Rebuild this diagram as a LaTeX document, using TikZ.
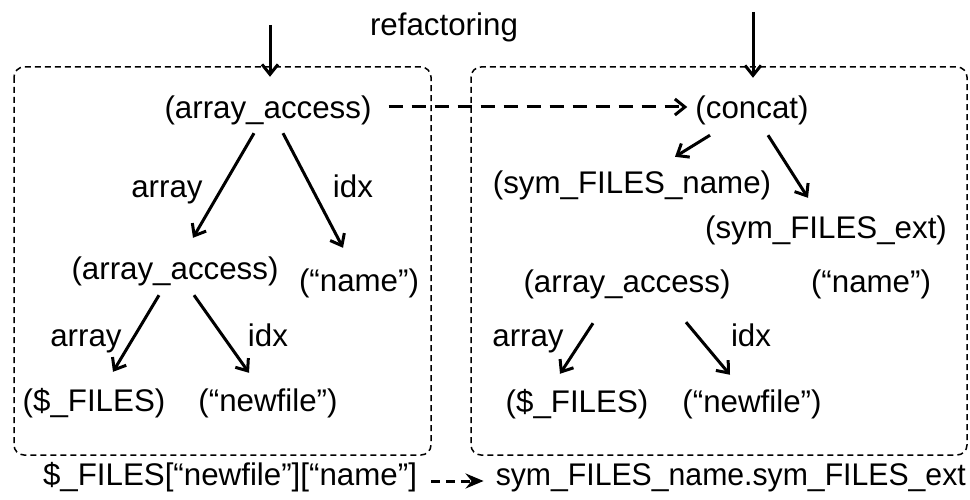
\documentclass[tikz,border=0pt]{standalone}
\usepackage{fontspec}
\setmainfont{Liberation Sans}
\usetikzlibrary{arrows.meta,calc}
\begin{document}
\begin{tikzpicture}[x=1pt,y=-1pt,
  lbl/.style={inner sep=0pt, text height=23pt, text depth=7pt,
    font=\fontsize{31.3}{36}\selectfont},
  grp/.style={draw, line width=1.5pt, dash pattern=on 6pt off 4pt, rounded corners=10pt},
  arr/.style={line width=3pt, -{Straight Barb[length=10pt,width=16pt]}},
  maparr/.style={line width=3pt, dash pattern=on 14pt off 9pt,
    -{Straight Barb[length=10pt,width=16pt]}},
  smallmap/.style={line width=3pt, dash pattern=on 9pt off 6pt,
    -{Stealth[length=18pt,width=15pt,inset=6pt]}}]
\useasboundingbox (0,0) rectangle (970,500);

% the two subtrees
\draw[grp] (14,67) rectangle (431,455);
\draw[grp] (471,67) rectangle (967,455);

\node[lbl] (title) at (444,28) {refactoring};

% original tree
\node[lbl] (L1) at (268,111) {(array\_access)};
\node[lbl] (L2) at (175,271) {(array\_access)};
\node[lbl] (Lname) at (359,283) {(“name”)};
\node[lbl] (Lfiles) at (94,403) {(\$\_FILES)};
\node[lbl] (Lnew) at (268,403) {(“newfile”)};
\node[lbl] (la1) at (167,190) {array};
\node[lbl] (li1) at (353,190) {idx};
\node[lbl] (la2) at (86,338) {array};
\node[lbl] (li2) at (268,338) {idx};

% refactored tree
\node[lbl] (R1) at (752,111) {(concat)};
\node[lbl] (Rn) at (632,186) {(sym\_FILES\_name)};
\node[lbl] (Re) at (826,231) {(sym\_FILES\_ext)};
\node[lbl] (R2) at (627,284) {(array\_access)};
\node[lbl] (Rname) at (871,284) {(“name”)};
\node[lbl] (Rfiles) at (577,404) {(\$\_FILES)};
\node[lbl] (Rnew) at (752,404) {(“newfile”)};
\node[lbl] (ra) at (528,338) {array};
\node[lbl] (ri) at (751,338) {idx};

% source expressions
\node[lbl] (src) at (230,477) {\$\_FILES[“newfile”][“name”]};
\node[lbl, anchor=east] (dst) at (966,477)
  {\scalebox{0.965}[1]{sym\_FILES\_name.sym\_FILES\_ext}};

% entry arrows
\coordinate (inL) at (270,25);
\coordinate (inR) at (753,12);
\draw[arr] (inL) -- ($(L1.north)+(2,-19)$);
\draw[arr] (inR) -- ($(R1.north)+(1,-18)$);

% original tree edges
\draw[arr] ($(L1.south)+(-14,7)$) -- ($(L2.north)+(18,-18)$);
\draw[arr] ($(L1.south)+(15,7)$) -- ($(Lname.north)+(-16,-20)$);
\draw[arr] ($(L2.south)+(-16,9)$) -- ($(Lfiles.north)+(19,-16)$);
\draw[arr] ($(L2.south)+(19,9)$) -- ($(Lnew.north)+(-19,-15)$);

% refactored tree edges
\draw[arr] ($(R1.south)+(-42,9)$) -- ($(Rn.north)+(43,-14)$);
\draw[arr] ($(R1.south)+(16,9)$) -- ($(Re.north)+(-18,-18)$);
\draw[arr] ($(R2.south)+(-34,24)$) -- ($(Rfiles.north)+(-17,-15)$);
\draw[arr] ($(R2.south)+(59,23)$) -- ($(Rnew.north)+(-22,-14)$);

% mappings
\draw[maparr] ($(L1.east)+(17,-4)$) -- ($(R1.west)+(-8,-4)$);
\draw[smallmap] ($(src.east)+(14,4)$) -- ($(dst.west)+(-12,4)$);
\end{tikzpicture}
\end{document}
